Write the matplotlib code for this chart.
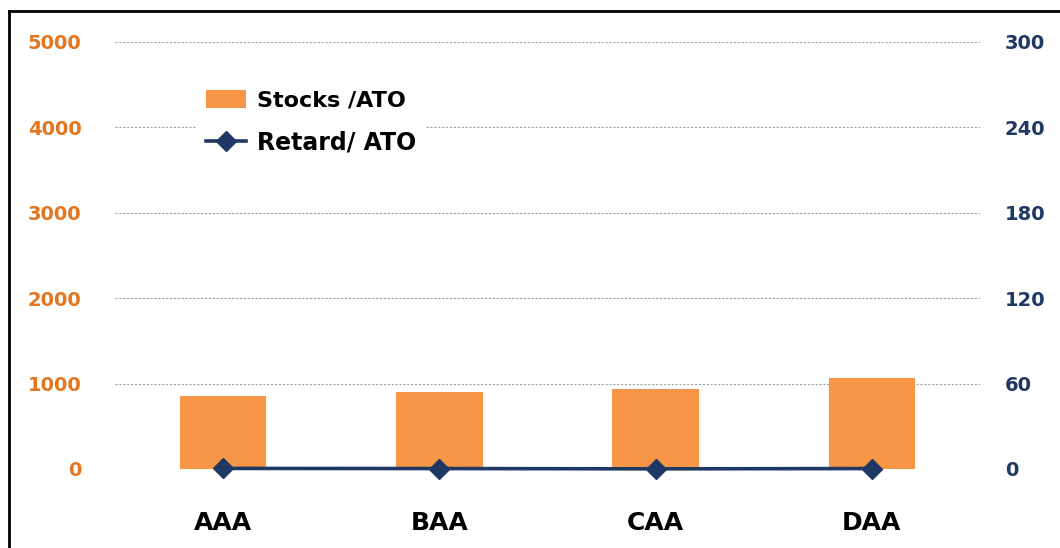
import matplotlib.pyplot as plt
from matplotlib.lines import Line2D

# Données du graphique
categories = ['AAA', 'BAA', 'CAA', 'DAA']
stocks_ato = [850, 900, 940, 1070]
retard_ato = [0.4, 0.3, 0.1, 0.3]
left_ticks = [0, 1000, 2000, 3000, 4000, 5000]
right_ticks = [0, 60, 120, 180, 240, 300]

ORANGE_BAR = '#F79646'
ORANGE_TXT = '#E3761E'
NAVY = '#1F3864'

fig = plt.figure(figsize=(10.6, 5.48), dpi=100)
ax = fig.add_axes([0.1085, 0.1442, 0.816, 0.7792])
ax2 = ax.twinx()

x = range(len(categories))
bars = ax.bar(x, stocks_ato, width=0.4, color=ORANGE_BAR, label='Stocks /ATO', zorder=2)
line, = ax2.plot(x, retard_ato, color=NAVY, lw=2.6, marker='D', markersize=10,
                 label='Retard/ ATO', zorder=3, clip_on=False)

ax.set_xlim(-0.5, 3.5)
ax.set_ylim(0, 5000)
ax2.set_ylim(0, 300)
ax.set_yticks(left_ticks)
ax2.set_yticks(right_ticks)
ax.set_xticks(list(x))
ax.set_xticklabels(categories)

ax.grid(axis='y', linestyle=(0, (2, 1.5)), color='#A0A0A0', lw=0.8, zorder=0)
ax.set_axisbelow(True)
for a in (ax, ax2):
    for s in a.spines.values():
        s.set_visible(False)

ax.tick_params(axis='y', length=0, pad=24, labelcolor=ORANGE_TXT, labelsize=14)
ax.tick_params(axis='x', length=0, pad=30, labelsize=18)
ax2.tick_params(axis='y', length=0, pad=18, labelcolor=NAVY, labelsize=14)
for lab in ax.get_yticklabels() + ax.get_xticklabels() + ax2.get_yticklabels():
    lab.set_fontweight('bold')

leg = ax2.legend([bars, line], ['Stocks /ATO', 'Retard/ ATO'],
                 loc='upper left', bbox_to_anchor=(0.082, 0.935),
                 frameon=True, facecolor='white', edgecolor='none', framealpha=1,
                 handlelength=1.8, handleheight=0.9, handletextpad=0.5,
                 labelspacing=0.9, prop={'size': 16, 'weight': 'bold'})
leg.get_texts()[1].set_fontsize(17)

# Cadre noir (haut et gauche)
fig.add_artist(Line2D([9 / 1060, 1.0], [1 - 11 / 548, 1 - 11 / 548],
                      color='black', lw=2, transform=fig.transFigure))
fig.add_artist(Line2D([9 / 1060, 9 / 1060], [0, 1 - 11 / 548],
                      color='black', lw=2, transform=fig.transFigure))

fig.savefig('out.png', dpi=100, facecolor='white')
